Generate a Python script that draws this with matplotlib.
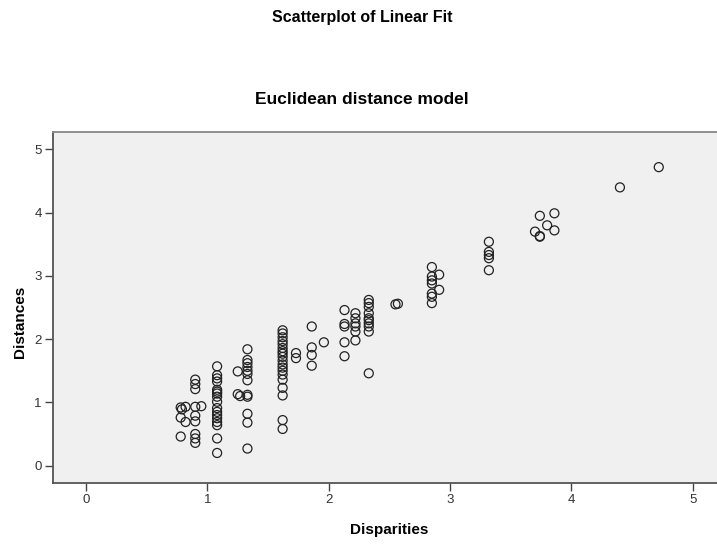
import matplotlib.pyplot as plt

# Disparities (x) and distances (y)
disparities = [
    0.78, 0.79, 0.82, 0.78, 0.82, 0.78,
    0.90, 0.90, 0.90, 0.90, 0.95, 0.90, 0.90, 0.90, 0.90, 0.90,
    1.08, 1.08, 1.08, 1.08, 1.08, 1.08, 1.08, 1.08, 1.08, 1.08, 1.08,
    1.08, 1.08, 1.08, 1.08, 1.08, 1.08,
    1.25, 1.25, 1.27,
    1.33, 1.33, 1.33, 1.33, 1.33, 1.33, 1.33, 1.33, 1.33, 1.33, 1.33, 1.33,
    1.62, 1.62, 1.62, 1.62, 1.62, 1.62, 1.62, 1.62, 1.62, 1.62, 1.62,
    1.62, 1.62, 1.62, 1.62, 1.62, 1.62, 1.62, 1.62,
    1.73, 1.73,
    1.86, 1.86, 1.86, 1.86,
    1.96,
    2.13, 2.13, 2.13, 2.13, 2.13,
    2.22, 2.22, 2.22, 2.22, 2.22, 2.22,
    2.33, 2.33, 2.33, 2.33, 2.33, 2.33, 2.33, 2.33, 2.33, 2.33,
    2.55, 2.57,
    2.85, 2.85, 2.85, 2.85, 2.85, 2.85, 2.85,
    2.91, 2.91,
    3.32, 3.32, 3.32, 3.32, 3.32,
    3.70, 3.74, 3.74, 3.74, 3.80, 3.86, 3.86,
    4.40, 4.72,
]
distances = [
    0.92, 0.89, 0.93, 0.76, 0.69, 0.46,
    1.36, 1.29, 1.21, 0.93, 0.94, 0.79, 0.70, 0.50, 0.43, 0.36,
    1.57, 1.43, 1.38, 1.33, 1.20, 1.17, 1.14, 1.09, 1.01, 0.91, 0.85,
    0.80, 0.75, 0.69, 0.64, 0.43, 0.20,
    1.49, 1.13, 1.10,
    1.84, 1.67, 1.62, 1.56, 1.50, 1.45, 1.35, 1.12, 1.09, 0.82, 0.68, 0.27,
    2.14, 2.09, 2.03, 1.97, 1.92, 1.86, 1.81, 1.77, 1.72, 1.66, 1.60,
    1.55, 1.50, 1.44, 1.36, 1.23, 1.11, 0.72, 0.58,
    1.78, 1.70,
    2.20, 1.87, 1.75, 1.58,
    1.95,
    2.46, 2.24, 2.20, 1.95, 1.73,
    2.41, 2.33, 2.25, 2.20, 2.12, 1.98,
    2.62, 2.57, 2.51, 2.41, 2.33, 2.30, 2.25, 2.20, 2.12, 1.46,
    2.55, 2.56,
    3.14, 2.99, 2.93, 2.88, 2.72, 2.67, 2.57,
    3.02, 2.78,
    3.54, 3.38, 3.33, 3.28, 3.09,
    3.70, 3.95, 3.63, 3.62, 3.80, 3.99, 3.72,
    4.40, 4.72,
]
ticks = [0, 1, 2, 3, 4, 5]

plt.rcParams['font.family'] = ['Liberation Sans', 'DejaVu Sans']

fig = plt.figure(figsize=(7.17, 5.45), dpi=100)
ax = fig.add_axes([0.0735, 0.1143, 0.9265, 0.644])
ax.set_facecolor('#f0f0f0')

ax.scatter(disparities, distances, s=42, facecolors='none',
           edgecolors='#222222', linewidths=0.9, zorder=3)

ax.set_xlim(-0.275, 5.2)
ax.set_ylim(-0.27, 5.28)
ax.set_xticks(ticks)
ax.set_yticks(ticks)
ax.tick_params(direction='out', length=6, width=1, color='#444444',
               labelsize=9.5, labelcolor='#333333', pad=2)

for side in ['left', 'bottom']:
    ax.spines[side].set_color('#555555')
    ax.spines[side].set_linewidth(1.3)
ax.spines['top'].set_color('#888888')
ax.spines['top'].set_linewidth(1.3)
ax.spines['right'].set_visible(False)

fig.text(0.505, 0.967, 'Scatterplot of Linear Fit', ha='center', va='center',
         fontsize=11.5, fontweight='bold')
fig.text(0.505, 0.817, 'Euclidean distance model', ha='center', va='center',
         fontsize=12.5, fontweight='bold')
fig.text(0.543, 0.027, 'Disparities', ha='center', va='center',
         fontsize=11, fontweight='bold')
fig.text(0.028, 0.41, 'Distances', ha='center', va='center',
         fontsize=11, fontweight='bold', rotation=90)

fig.savefig('out.png', dpi=100)
